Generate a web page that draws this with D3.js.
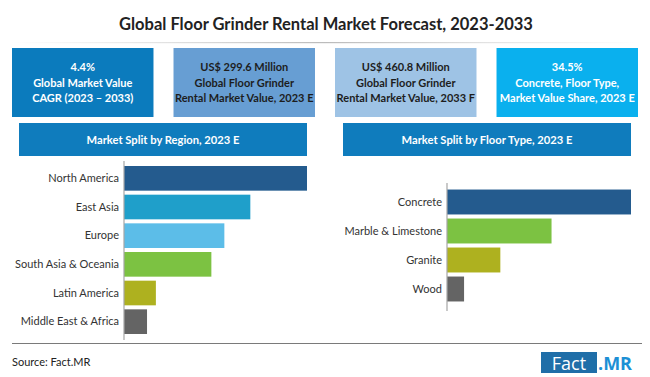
<!DOCTYPE html>
<html>
<head>
<meta charset="utf-8">
<script src="https://cdn.jsdelivr.net/npm/d3@7"></script>
<style>
  html, body { margin: 0; padding: 0; background: #fff; }
  svg { display: block; font-family: Lato, "Open Sans", sans-serif; }
</style>
</head>
<body>
<svg id="chart" width="650" height="377"></svg>
<script>
// chart data
const TITLE = 'Global Floor Grinder Rental Market Forecast, 2023-2033';
const KPI_LINES = [
  ['4.4%', 'Global Market Value', 'CAGR (2023 \u2013 2033)'],
  ['US$ 299.6 Million', 'Global Floor Grinder', 'Rental Market Value, 2023 E'],
  ['US$ 460.8 Million', 'Global Floor Grinder', 'Rental Market Value, 2033 F'],
  ['34.5%', 'Concrete, Floor Type,', 'Market Value Share, 2023 E']
];
const REGIONS = ['North America', 'East Asia', 'Europe', 'South Asia & Oceania', 'Latin America', 'Middle East & Africa'];
const REGION_VALUES = [31.0, 21.4, 17.0, 14.8, 5.4, 3.9];
const FLOOR_TYPES = ['Concrete', 'Marble & Limestone', 'Granite', 'Wood'];
const FLOOR_VALUES = [34.5, 19.6, 10.0, 3.2];

const SVG = d3.select('#chart');

// colours
const KPI_FILL = ['#0b7bbd', '#679ed3', '#9ec3e5', '#0ab0ee'];
const KPI_TEXT = ['#fff', '#1d1d1d', '#1d1d1d', '#fff'];
const HEADER_FILL = '#0f7cbd';
const REGION_COLORS = ['#245b8e', '#1f9fca', '#5cbde8', '#7cc242', '#aeb11f', '#646464'];
const FLOOR_COLORS = ['#245b8e', '#7cc242', '#aeb11f', '#646464'];

// title + fading rule under it
SVG.append('text')
  .attr('x', 326).attr('y', 30)
  .attr('text-anchor', 'middle')
  .style('font-size', '16.5px').style('font-weight', 700).style('fill', '#222')
  .text(TITLE);

const grad = SVG.append('defs').append('linearGradient').attr('id', 'rule');
grad.append('stop').attr('offset', '0%').attr('stop-color', '#ccc').attr('stop-opacity', 0);
grad.append('stop').attr('offset', '50%').attr('stop-color', '#bbb').attr('stop-opacity', 1);
grad.append('stop').attr('offset', '100%').attr('stop-color', '#ccc').attr('stop-opacity', 0);
SVG.append('rect').attr('x', 10).attr('y', 42).attr('width', 630).attr('height', 1.2).attr('fill', 'url(#rule)');

// KPI boxes
const kpiX = d3.scaleBand().domain(d3.range(4)).range([12, 638]).paddingInner(0.124);
const kpi = SVG.append('g').selectAll('g')
  .data(KPI_LINES)
  .join('g')
  .attr('transform', (d, i) => `translate(${kpiX(i)},48)`);
kpi.append('rect')
  .attr('width', kpiX.bandwidth()).attr('height', 69)
  .attr('fill', (d, i) => KPI_FILL[i]);
kpi.each((d, i, n) => {
  d3.select(n[i]).selectAll('text')
    .data(d)
    .join('text')
    .attr('x', kpiX.bandwidth() / 2)
    .attr('y', (t, j) => 23 + j * 15.5)
    .attr('text-anchor', 'middle')
    .style('font-size', '11px').style('font-weight', 700)
    .style('fill', KPI_TEXT[i])
    .text(t => t);
});

// section headers
const headers = [
  { x: 19, w: 288, label: 'Market Split by Region, 2023 E' },
  { x: 343, w: 288, label: 'Market Split by Floor Type, 2023 E' }
];
const hdr = SVG.append('g').selectAll('g').data(headers).join('g')
  .attr('transform', d => `translate(${d.x},123)`);
hdr.append('rect').attr('width', d => d.w).attr('height', 33).attr('fill', HEADER_FILL);
hdr.append('text')
  .attr('x', d => d.w / 2).attr('y', 21)
  .attr('text-anchor', 'middle')
  .style('font-size', '11.2px').style('font-weight', 700).style('fill', '#fff')
  .text(d => d.label);

/**
 * horizontal bar chart with category labels on the left
 */
const buildBars = (cats, vals, colors, x0, x1, y0, y1, axisTop, axisBottom) => {
  const Y = d3.scaleBand().domain(cats).range([y0, y1]).paddingInner(0.14).paddingOuter(0.07);
  const X = d3.scaleLinear().domain([0, d3.max(vals)]).range([x0, x1]);
  const g = SVG.append('g');
  g.selectAll('rect')
    .data(cats)
    .join('rect')
    .attr('x', X(0))
    .attr('y', d => Y(d))
    .attr('width', (d, i) => X(vals[i]) - X(0))
    .attr('height', Y.bandwidth())
    .attr('fill', (d, i) => colors[i]);
  const axis = g.append('g')
    .attr('transform', `translate(${x0},0)`)
    .call(d3.axisLeft(Y).tickSize(0).tickPadding(5));
  axis.select('.domain').remove();
  axis.selectAll('text').style('font-size', '11px').style('fill', '#333').style('font-family', 'Lato, sans-serif');
  g.append('line')
    .attr('x1', x0).attr('x2', x0)
    .attr('y1', axisTop).attr('y2', axisBottom)
    .attr('stroke', '#a6a6a6').attr('stroke-width', 1.2);
};

buildBars(REGIONS, REGION_VALUES, REGION_COLORS, 124, 307, 164, 336, 161, 340);
buildBars(FLOOR_TYPES, FLOOR_VALUES, FLOOR_COLORS, 447, 631, 187.5, 303.5, 183, 311);

// footer
SVG.append('line')
  .attr('x1', 12).attr('x2', 642).attr('y1', 343.5).attr('y2', 343.5)
  .attr('stroke', '#7a7a7a').attr('stroke-width', 1);
SVG.append('text')
  .attr('x', 12).attr('y', 366)
  .style('font-size', '11px').style('fill', '#222')
  .text('Source: Fact.MR');

const logo = SVG.append('g');
logo.append('rect').attr('x', 541).attr('y', 352).attr('width', 56).attr('height', 21).attr('fill', '#1f6ea8');
logo.append('text')
  .attr('x', 569).attr('y', 369.5)
  .attr('text-anchor', 'middle')
  .style('font-size', '18px').style('fill', '#fff').style('font-family', '"Open Sans", sans-serif')
  .text('Fact');
logo.append('text')
  .attr('x', 598).attr('y', 369.5)
  .style('font-size', '18px').style('font-weight', 700).style('fill', '#1c90d5').style('font-family', '"Open Sans", sans-serif')
  .text('.MR');
</script>
</body>
</html>
